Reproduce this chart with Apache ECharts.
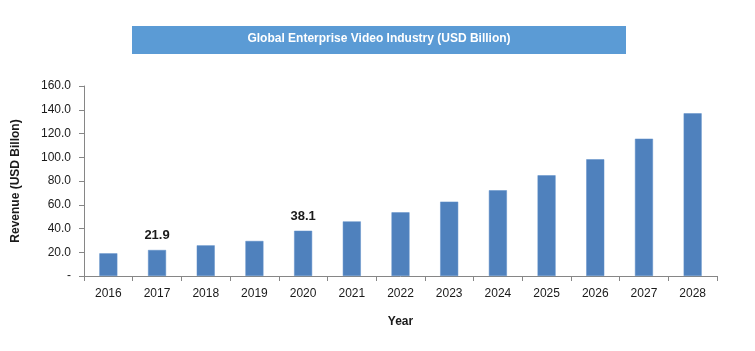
<!DOCTYPE html>
<html>
<head>
<meta charset="utf-8">
<script src="https://cdn.jsdelivr.net/npm/echarts@6/dist/echarts.min.js"></script>
<style>
  * { margin: 0; padding: 0; }
  html, body { background: #fff; }
  #chart { width: 755px; height: 351px; }
</style>
</head>
<body>
<div id="chart"></div>
<script>
// 数据
var years = ['2016', '2017', '2018', '2019', '2020', '2021', '2022', '2023', '2024', '2025', '2026', '2027', '2028']
var revenue = [19.1, 21.9, 25.8, 29.5, 38.1, 46.0, 53.6, 62.6, 72.2, 84.8, 98.3, 115.6, 137.0]
var labelled = ['2017', '2020'] // only these bars carry a value label

var font = 'Liberation Sans'
var chart = echarts.init(document.getElementById('chart'))

var option = {
  animation: false,
  textStyle: { fontFamily: font },
  graphic: [
    {
      type: 'rect',
      shape: { x: 132, y: 26, width: 494, height: 28 },
      style: { fill: '#5B9BD5' }
    },
    {
      type: 'text',
      x: 379,
      y: 39,
      style: {
        text: 'Global Enterprise Video Industry (USD Billion)',
        fill: '#fff',
        font: 'bold 12px Liberation Sans',
        align: 'center',
        verticalAlign: 'middle'
      }
    }
  ],
  grid: {
    left: 84,
    right: 38,
    top: 86,
    bottom: 75
  },
  xAxis: {
    type: 'category',
    data: years,
    name: 'Year',
    nameLocation: 'middle',
    nameGap: 40,
    nameTextStyle: { color: '#1a1a1a', fontWeight: 'bold', fontSize: 12 },
    axisLine: { lineStyle: { color: '#868686', width: 1 } },
    axisTick: { show: true, length: 5, lineStyle: { color: '#868686' } },
    axisLabel: { color: '#1a1a1a', fontSize: 12, margin: 12 }
  },
  yAxis: {
    type: 'value',
    min: 0,
    max: 160,
    interval: 20,
    name: 'Revenue (USD Billon)',
    nameLocation: 'middle',
    nameGap: 62,
    nameTextStyle: { color: '#1a1a1a', fontWeight: 'bold', fontSize: 12 },
    axisLine: { show: true, lineStyle: { color: '#868686' } },
    axisTick: { show: true, length: 5, lineStyle: { color: '#868686' } },
    splitLine: { show: false },
    axisLabel: {
      color: '#1a1a1a',
      fontSize: 12,
      margin: 13,
      formatter: function (v) { return v === 0 ? '-' : v.toFixed(1) }
    }
  },
  series: [
    {
      type: 'bar',
      barWidth: 18,
      data: revenue.map(function (v, i) {
        return {
          value: v,
          label: { show: labelled.indexOf(years[i]) >= 0 }
        }
      }),
      itemStyle: { color: '#4F81BD', borderColor: '#5F8FC8', borderWidth: 0.5 },
      label: {
        position: 'top',
        distance: 8,
        color: '#1a1a1a',
        fontWeight: 'bold',
        fontSize: 13,
        formatter: function (p) { return p.value.toFixed(1) }
      }
    }
  ]
}
chart.setOption(option)
</script>
</body>
</html>
